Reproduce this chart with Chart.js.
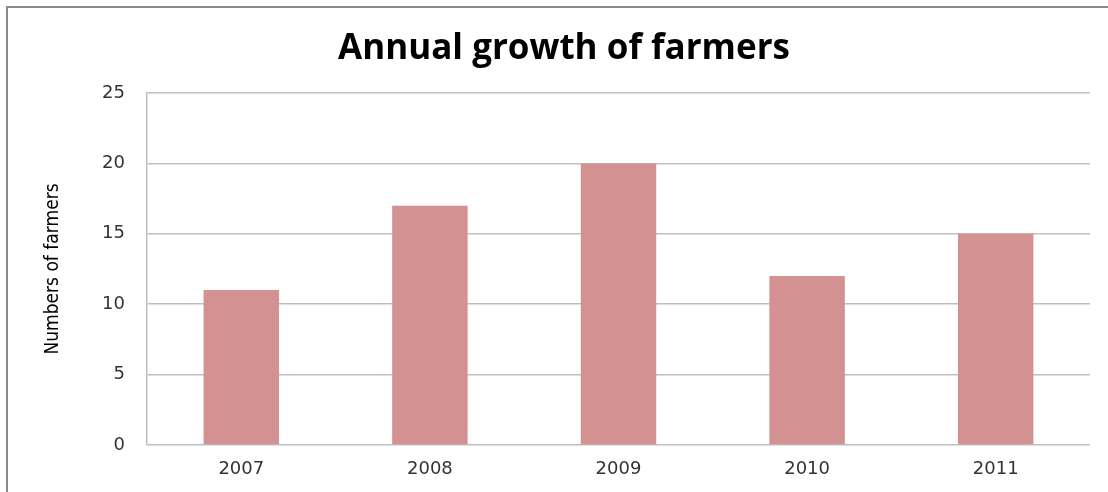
<!DOCTYPE html>
<html>
<head>
<meta charset="utf-8">
<script src="https://cdn.jsdelivr.net/npm/chart.js@4/dist/chart.umd.min.js"></script>
<style>
  html, body { margin: 0; padding: 0; background: #fff; overflow: hidden; }
  #wrap { position: relative; width: 1108px; height: 492px; }
  #frame { position: absolute; left: 6px; top: 6px; width: 1200px; height: 600px; border: 2px solid #8a8a8a; pointer-events: none; }
  canvas { position: absolute; left: 0; top: 0; }
</style>
</head>
<body>
<div id="wrap">
  <canvas id="c" width="1108" height="492"></canvas>
  <div id="frame"></div>
</div>
<script>
const categories = ["2007", "2008", "2009", "2010", "2011"];
const farmers = [11, 17, 20, 12, 15];
const yTicks = [0, 5, 10, 15, 20, 25];

const tickFont = { family: "'DejaVu Sans', sans-serif", size: 18 };

const ctx = document.getElementById('c');
new Chart(ctx, {
  type: 'bar',
  data: {
    labels: categories,
    datasets: [{
      label: 'Numbers of farmers',
      data: farmers,
      backgroundColor: '#d39191',
      borderWidth: 0,
      categoryPercentage: 0.4,
      barPercentage: 1.0
    }]
  },
  options: {
    responsive: false,
    animation: false,
    layout: { padding: { left: 38, right: 18, top: 0, bottom: 0 } },
    plugins: {
      legend: { display: false },
      tooltip: { enabled: false },
      title: {
        display: true,
        text: 'Annual growth of farmers',
        color: '#000',
        font: { family: "'Open Sans', sans-serif", size: 35, weight: 'bold' },
        padding: { top: 28, bottom: 23 }
      }
    },
    scales: {
      x: {
        grid: { display: false, drawTicks: false },
        border: { display: false },
        ticks: { color: '#333', font: tickFont, padding: 14 },
        afterFit: (s) => { s.height = 47; }
      },
      y: {
        min: 0, max: 25,
        afterBuildTicks: (s) => { s.ticks = yTicks.map(v => ({ value: v })); },
        grid: { color: '#bfbfbf', lineWidth: 1.5, drawTicks: false },
        border: { display: true, color: '#bfbfbf', width: 1.5 },
        ticks: { color: '#333', font: tickFont, padding: 22 },
        title: {
          display: true,
          text: 'Numbers of farmers',
          color: '#000',
          font: { family: "'Liberation Sans Narrow', 'DejaVu Sans Condensed', sans-serif", size: 19 },
          padding: { top: 4, bottom: 4 }
        },
        afterFit: (s) => { s.width = 147 - 38; }
      }
    }
  }
});
</script>
</body>
</html>
